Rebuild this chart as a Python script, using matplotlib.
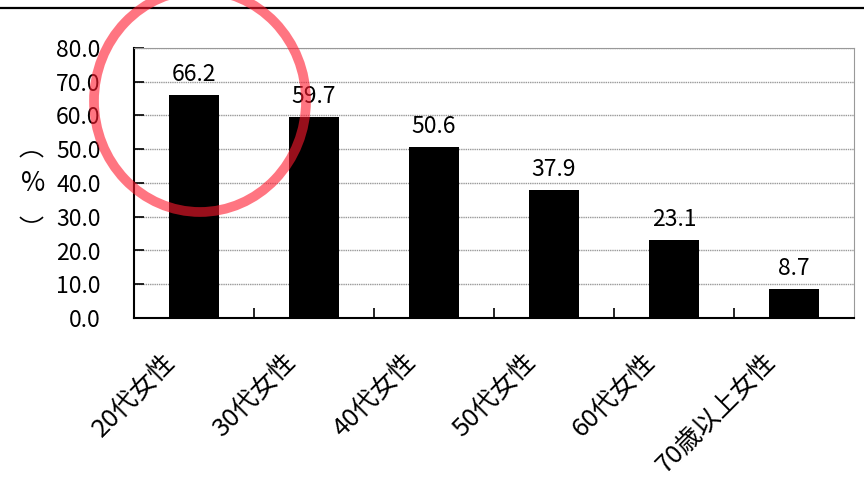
import matplotlib
matplotlib.use("Agg")
import matplotlib.pyplot as plt
from matplotlib.patches import Ellipse, Arc
from matplotlib.lines import Line2D
from matplotlib.transforms import ScaledTranslation
import numpy as np

plt.rcParams['font.family'] = ['Noto Sans CJK JP', 'DejaVu Sans']

categories = ["20代女性", "30代女性", "40代女性", "50代女性", "60代女性", "70歳以上女性"]
values = [66.2, 59.7, 50.6, 37.9, 23.1, 8.7]
yticks = [0, 10, 20, 30, 40, 50, 60, 70, 80]

W, H = 864, 498
fig = plt.figure(figsize=(W / 100, H / 100), dpi=100)
ax = fig.add_axes([134 / W, 1 - 318 / H, 720 / W, 270 / H])

x = np.arange(len(categories))
ax.bar(x, values, width=0.42, color="black", zorder=3)
for xi, v in zip(x, values):
    ax.text(xi, v + 2.6, f"{v:.1f}", ha="center", va="bottom", fontsize=16.5)

ax.set_xlim(-0.5, len(categories) - 0.5)
ax.set_ylim(0, 80)
ax.set_yticks(yticks)
ax.set_yticklabels([f"{t:.1f}" for t in yticks], fontsize=16.5)
ax.tick_params(axis="y", direction="in", length=7, width=1.2, pad=24)

ax.set_xticks(x)
ax.set_xticklabels(categories, rotation=45, ha="right", va="center",
                   rotation_mode="anchor", fontsize=18.5)
ax.tick_params(axis="x", which="major", length=0, pad=29)
shift = ScaledTranslation(-0.22, 0, fig.dpi_scale_trans)
for lbl in ax.get_xticklabels():
    lbl.set_transform(lbl.get_transform() + shift)
ax.set_xticks(np.arange(0.5, len(categories) - 0.5, 1.0), minor=True)
ax.tick_params(axis="x", which="minor", direction="in", length=7, width=1.2)

ax.grid(axis="y", color="#999999", linewidth=1.0, linestyle=(0, (1, 0.6)), zorder=0)
ax.spines["left"].set_linewidth(1.5)
ax.spines["bottom"].set_linewidth(1.5)
ax.spines["top"].set_color("#999999")
ax.spines["right"].set_color("#999999")

# y-axis unit "(%)" set vertically: rotated brackets around an upright percent sign
px = plt.matplotlib.transforms.IdentityTransform()
fig.add_artist(Arc((31.5, H - 167.7), 31.4, 31.4, theta1=43, theta2=137,
                   transform=px, color="black", linewidth=1.2))
fig.add_artist(Arc((31.5, H - 206.3), 31.4, 31.4, theta1=223, theta2=317,
                   transform=px, color="black", linewidth=1.2))
fig.text(33.5 / W, 1 - 183 / H, "%", ha="center", va="center", fontsize=19)

# header rule
fig.add_artist(Line2D([0, 1], [1 - 8 / H, 1 - 8 / H], transform=fig.transFigure,
                      color="black", linewidth=1.6))

# highlight ring
fig.add_artist(Ellipse((200 / W, 1 - 101 / H), 212 / W, 222 / H,
                       transform=fig.transFigure, fill=False,
                       edgecolor=(1.0, 0.1, 0.18), alpha=0.6, linewidth=7, zorder=10))

fig.savefig("out.png", dpi=100)
